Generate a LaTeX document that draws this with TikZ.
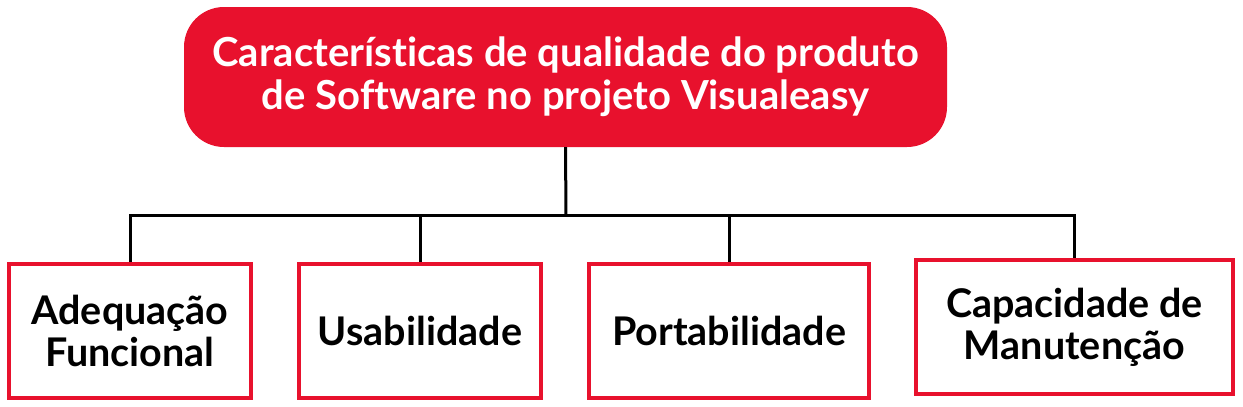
\documentclass[tikz,border=0pt]{standalone}
\usepackage{fontspec}
\setmainfont{Lato}[UprightFont=* Bold,RawFeature={-liga;-dlig}]
\definecolor{qred}{HTML}{E8112D}
\begin{document}
\begin{tikzpicture}[x=1pt,y=-1pt,
  topbox/.style={fill=qred,draw=none,rounded corners=40pt,minimum width=763pt,minimum height=140pt,
    text=white,align=center,font=\fontsize{40}{43}\selectfont},
  leafbox/.style={draw=qred,line width=4pt,fill=white,minimum height=134pt,align=center,
    font=\fontsize{39.5}{42}\selectfont},
  conn/.style={draw=black,line width=3pt}]
\useasboundingbox (0,0) rectangle (1243,407);
\node[topbox] (top) at (565.5,77) {Características de qualidade do produto\\de Software no projeto Visualeasy};
\node[leafbox,minimum width=242pt] (b1) at (130,331) {Adequação\\Funcional};
\node[leafbox,minimum width=242pt] (b2) at (420,331) {Usabilidade};
\node[leafbox,minimum width=280pt] (b3) at (729,331) {Portabilidade};
\node[leafbox,minimum width=317pt] (b4) at (1074.5,327) {Capacidade de\\Manutenção};
\coordinate (bus) at (566,215);
\draw[conn] (top.south) -- (bus);
\draw[conn] (b1.north) |- (bus);
\draw[conn] (bus) -| (b4.north);
\draw[conn] (b2.north) -- (b2.north |- bus);
\draw[conn] (b3.north) -- (b3.north |- bus);
\end{tikzpicture}
\end{document}
